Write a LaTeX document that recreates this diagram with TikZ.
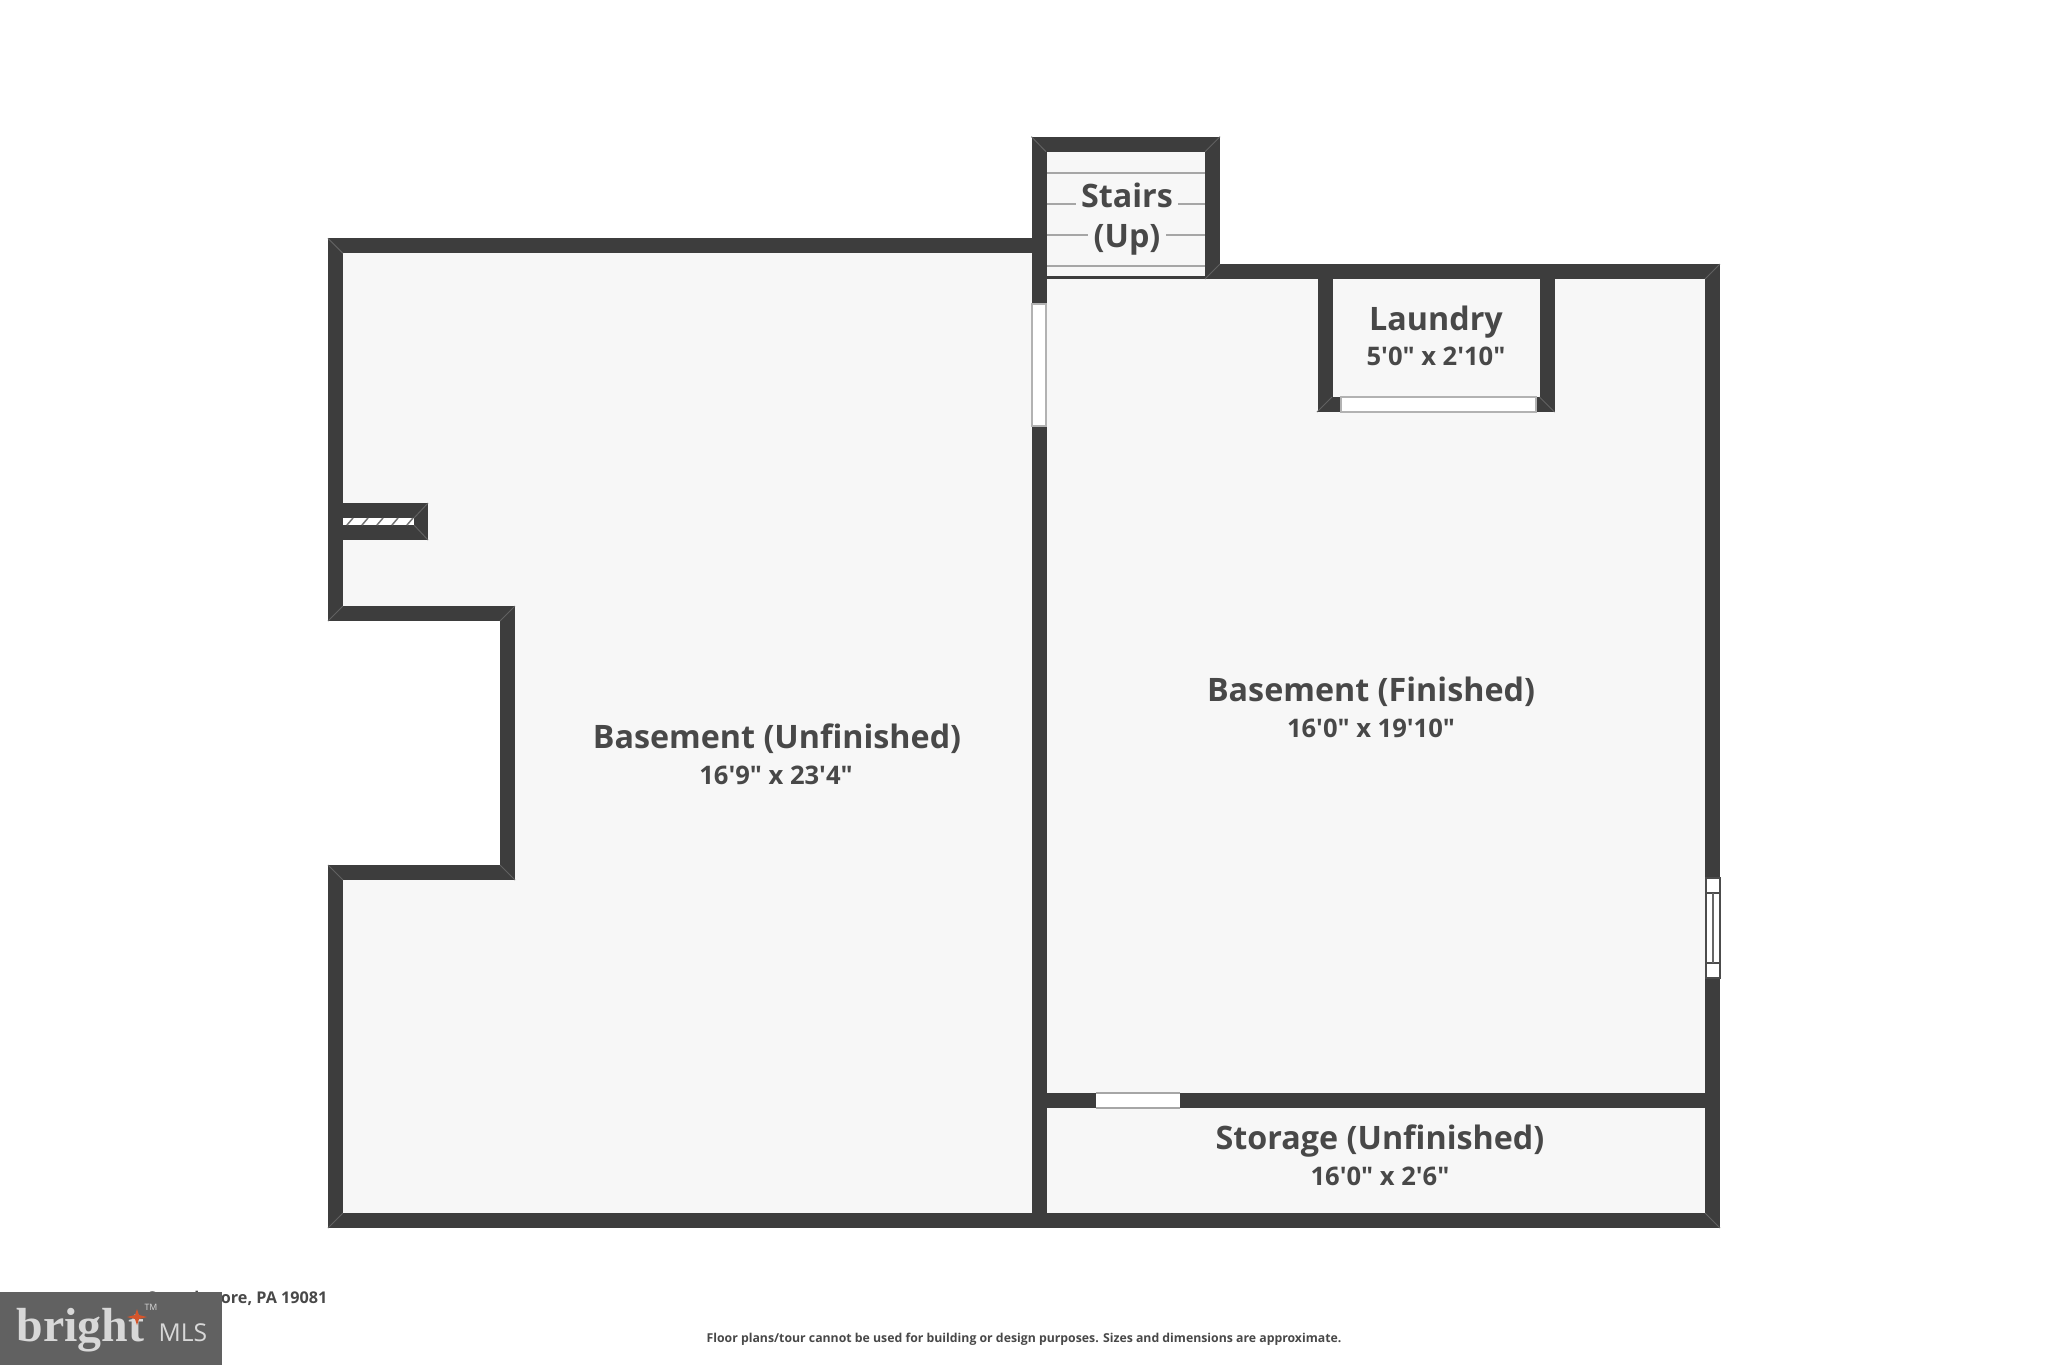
\documentclass[tikz,border=0pt]{standalone}
\usepackage{fontspec}
\newfontfamily\planfont{Open Sans}
\newfontfamily\logoserif{Liberation Serif}
\definecolor{wallgray}{HTML}{3D3D3D}
\definecolor{floorgray}{HTML}{F7F7F7}
\definecolor{textgray}{HTML}{484848}
\definecolor{logogray}{HTML}{616161}
\definecolor{logotext}{HTML}{D8D8D8}
\definecolor{logostar}{HTML}{D4552B}
\begin{document}
\begin{tikzpicture}[x=0.01cm,y=-0.01cm,
    wall/.style ={draw=wallgray, line width=1.5mm, miter limit=10},
    opening/.style ={draw=black!30, fill=white, line width=0.2mm},
    riser/.style ={draw=black!35, line width=0.2mm},
    seam/.style ={draw=black!62, line width=0.1mm},
    roomname/.style ={font=\planfont\bfseries\fontsize{9.18}{11}\selectfont, text=textgray, inner sep=0pt},
    roomsize/.style ={font=\planfont\bfseries\fontsize{7.27}{9}\selectfont, text=textgray, inner sep=0pt},
    stairname/.style ={roomname, fill=floorgray, inner xsep=1.5pt, inner ysep=0pt},
    smallnote/.style ={font=\planfont\bfseries\fontsize{3.49}{5}\selectfont, text=textgray, inner sep=0pt}]
   \useasboundingbox (0,0) rectangle (2048,1365);
   \fill[white] (0,0) rectangle (2048,1365);

   \fill[floorgray] (335.5,245.8) -- (1039,245.8) -- (1039,144.2) -- (1212.5,144.2) -- (1212.5,271.5)
       -- (1712.5,271.5) -- (1712.5,1220.5) -- (335.5,1220.5) -- (335.5,872.5) -- (507.5,872.5)
       -- (507.5,613.5) -- (335.5,613.5) -- cycle;

   \foreach \y in {173.3,204.3,235,266}
     \draw[riser] (1046,\y) -- (1205.5,\y);

   \draw[wall] (335.5,245.8) -- (1039,245.8) -- (1039,144.2) -- (1212.5,144.2) -- (1212.5,271.5)
       -- (1712.5,271.5) -- (1712.5,1220.5) -- (335.5,1220.5) -- (335.5,872.5) -- (507.5,872.5)
       -- (507.5,613.5) -- (335.5,613.5) -- cycle;
   \draw[wall] (1039,144.2) -- (1039,1220.5);
   \draw[wall] (1039,1100.5) -- (1712.5,1100.5);
   \draw[wall] (1325,271.5) -- (1325,411.7);
   \draw[wall] (1547,271.5) -- (1547,411.7);
   \fill[wallgray] (1317.5,397) rectangle (1554.5,411.7);
   \fill[wallgray] (335.5,503) rectangle (428,540);
   \fill[wallgray] (1046,275.7) rectangle (1205.5,279);

   \draw[opening] (1031.7,304) rectangle (1046,425.7);
   \draw[opening] (1341.4,397) rectangle (1535.8,411.7);
   \fill[white] (1096,1093) rectangle (1180,1108);
   \draw[riser] (1096,1093) -- (1180,1093) (1096,1108) -- (1180,1108);

   \draw[opening,draw=black!70] (1705.5,878) rectangle (1720,978);
   \draw[draw=black!70,line width=0.2mm] (1705.5,893) -- (1720,893) (1705.5,963) -- (1720,963);
   \draw[draw=black!60,line width=0.2mm] (1712.7,893) -- (1712.7,963);

   \fill[white] (343,518) rectangle (414,525);
   \foreach \x in {347,362,377,392,407}
     \draw[draw=black!55,line width=0.15mm] (\x,525) -- (\x+6,518);

   \foreach \a/\b/\c/\d in {328/238.3/343/253.3,1031.5/136.7/1046/151.7,1220/136.7/1205/151.7,
       1220/264/1205/279,1720/264/1705/279,1720/1228/1705/1213,1317/412/1332/397,1554.5/412/1539.5/397,
       328/1228/343/1213,328/621/343/606,328/865/343/880,515/606/500/621,515/880/500/865,428/503/414/518,428/540/414/525}
     \draw[seam] (\a,\b) -- (\c,\d);

   \node[roomname] (unfinished) at (777,739) {Basement (Unfinished)};
   \node[roomsize] (unfinishedsize) at (776,775) {16'9" x 23'4"};
   \node[roomname] (finished) at (1371,692) {Basement (Finished)};
   \node[roomsize] (finishedsize) at (1371,728) {16'0" x 19'10"};
   \node[roomname] (storage) at (1380,1141) {Storage (Unfinished)};
   \node[roomsize] (storagesize) at (1380,1176) {16'0" x 2'6"};
   \node[roomname] (laundry) at (1436,322) {Laundry};
   \node[roomsize] (laundrysize) at (1436,356) {5'0" x 2'10"};
   \node[stairname] (stairs) at (1127,195) {Stairs};
   \node[stairname] (up) at (1127,240) {(Up)};

   \node[smallnote,font=\planfont\bfseries\fontsize{4.6}{6}\selectfont,anchor=east] (address) at (328,1298) {Swarthmore, PA 19081};
   \node[smallnote] (footer) at (1024,1339) {Floor plans/tour cannot be used for building or design purposes. Sizes and dimensions are approximate.};

   \fill[logogray] (0,1292) rectangle (222,1365);
   \node[font=\logoserif\bfseries\fontsize{13.6}{15}\selectfont,text=logotext,inner sep=0pt,anchor=base west] (bright) at (16,1341) {bright};
   \node[font=\planfont\fontsize{7}{8}\selectfont,text=logotext,inner sep=0pt,anchor=base west] (mls) at (158,1341) {MLS};
   \node[font=\planfont\fontsize{2.5}{3}\selectfont,text=logotext,inner sep=0pt] (tm) at (151,1307) {TM};
   \fill[logostar] (137,1309) -- (139,1315) -- (147,1317) -- (139,1319) -- (137,1325) -- (135,1319) -- (127,1317) -- (135,1315) -- cycle;
 \end{tikzpicture}
\end{document}
